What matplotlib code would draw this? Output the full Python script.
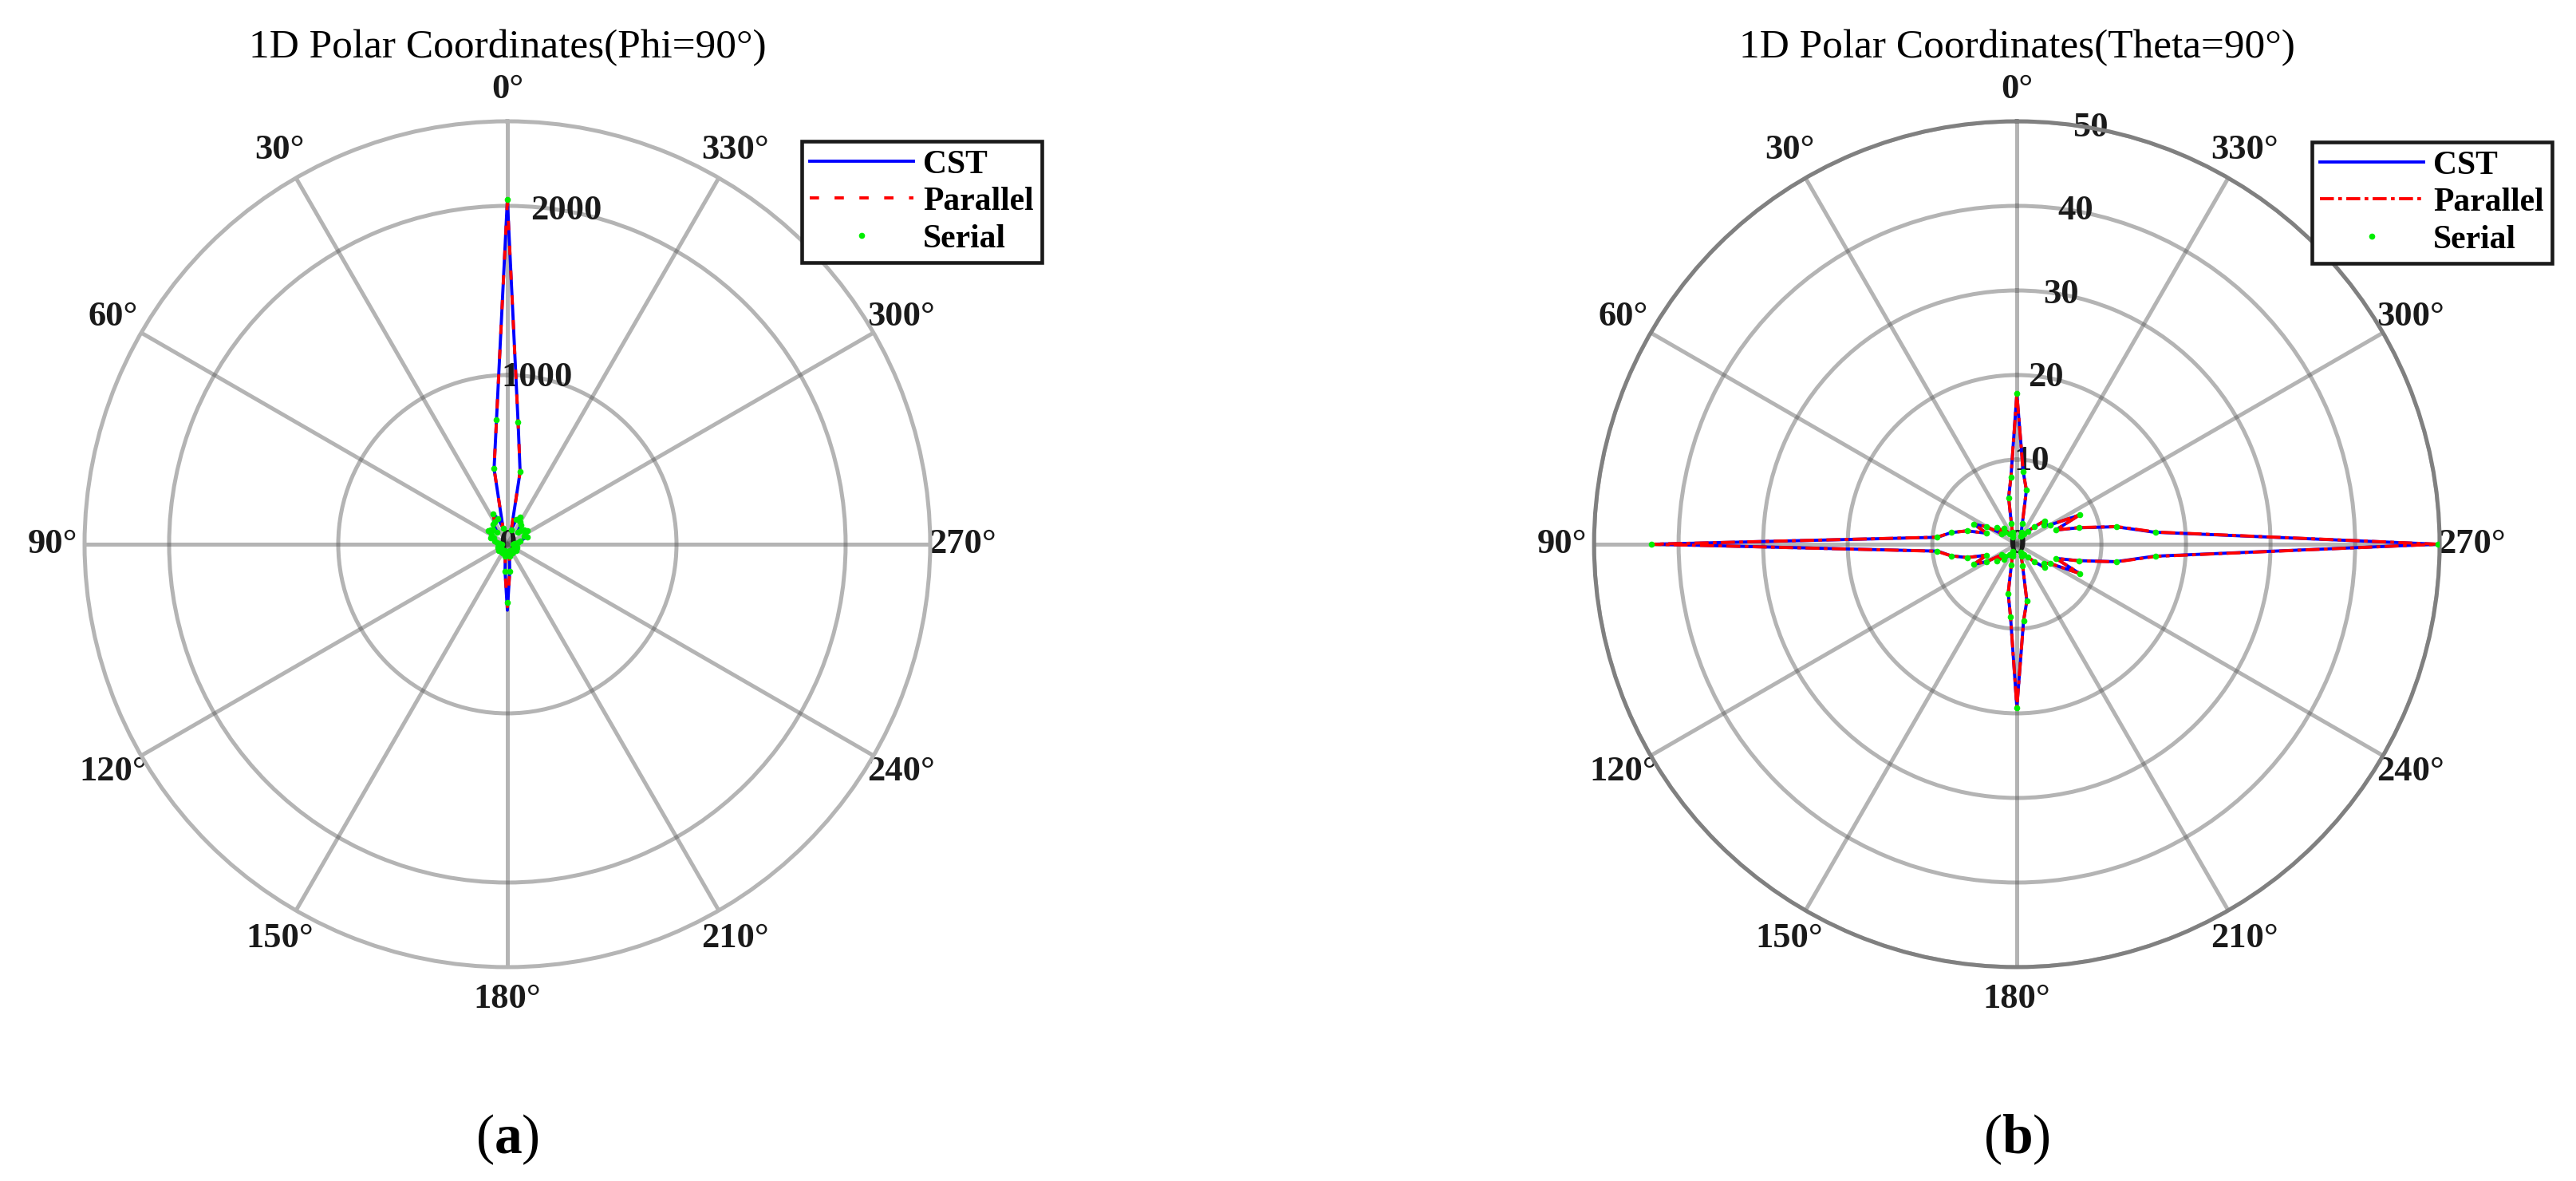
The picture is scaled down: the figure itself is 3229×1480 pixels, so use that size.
import numpy as np
import matplotlib
matplotlib.use("Agg")
import matplotlib.pyplot as plt
from matplotlib.lines import Line2D

# ---------------- data ----------------
angle_deg = list(range(0, 360, 5))          # sampling angles (deg)
theta_labels = ["0°", "30°", "60°", "90°", "120°", "150°",
                "180°", "210°", "240°", "270°", "300°", "330°"]
theta_ticks = [0, 30, 60, 90, 120, 150, 180, 210, 240, 270, 300, 330]

# (a) Phi = 90 deg cut, value vs theta
a_cst = [2036, 738, 453, 98, 160, 198, 150, 144, 95, 120, 130, 139, 110, 90, 105, 80,
         60, 45, 35, 40, 50, 55, 60, 55, 60, 65, 55, 50, 45, 55, 60, 50, 40, 55, 70, 159,
         390, 161, 70, 55, 40, 50, 60, 55, 45, 50, 55, 65, 60, 55, 60, 55, 50, 40, 35, 45,
         60, 80, 128, 110, 120, 142, 130, 110, 95, 137, 150, 177, 156, 90, 434, 726]
a_parallel = [2030, 738, 453, 98, 160, 198, 150, 144, 95, 120, 130, 139, 110, 90, 105, 80,
              60, 45, 35, 40, 50, 55, 60, 55, 60, 65, 55, 50, 45, 55, 60, 50, 40, 55, 70, 159,
              370, 161, 70, 55, 40, 50, 60, 55, 45, 50, 55, 65, 60, 55, 60, 55, 50, 40, 35, 45,
              60, 80, 128, 110, 120, 142, 130, 110, 95, 137, 150, 177, 156, 90, 434, 726]
a_serial = [2036, 738, 453, 98, 160, 198, 150, 144, 95, 120, 130, 139, 110, 90, 105, 80,
            60, 45, 35, 40, 50, 55, 60, 55, 60, 65, 55, 50, 45, 55, 60, 50, 40, 55, 70, 159,
            345, 161, 70, 55, 40, 50, 60, 55, 45, 50, 55, 65, 60, 55, 60, 55, 50, 40, 35, 45,
            60, 80, 128, 110, 120, 142, 130, 110, 95, 137, 150, 177, 156, 90, 434, 726]
a_rticks = [0, 1000, 2000]
a_rticklabels = ["0", "1000", "2000"]
a_rmax = 2500

# (b) Theta = 90 deg cut, value vs phi
b_cst = [17.8, 8.0, 5.6, 2.5, 1.5, 1.2, 1.0, 1.5, 2.4, 2.0, 3.1, 2.2, 4.1, 5.6, 3.8, 6.1,
         7.9, 9.4, 43.0, 9.4, 7.9, 6.1, 3.8, 5.6, 4.1, 2.2, 3.1, 2.0, 2.4, 1.5, 1.0, 1.2,
         1.5, 2.5, 5.9, 8.6, 19.3, 9.1, 6.8, 2.6, 1.5, 1.0, 1.2, 1.5, 2.0, 2.9, 4.3, 3.9,
         4.6, 8.1, 4.9, 7.5, 11.9, 16.3, 49.7, 16.3, 11.9, 7.5, 4.9, 8.1, 4.6, 3.9, 4.3, 2.9,
         2.0, 1.5, 1.2, 1.0, 1.5, 2.5, 6.5, 8.6]
b_parallel = [17.8, 8.0, 5.6, 2.5, 1.5, 1.2, 1.0, 1.5, 2.4, 2.0, 3.1, 2.2, 4.1, 5.6, 3.8, 6.1,
              7.9, 9.5, 43.2, 9.5, 7.9, 6.1, 3.8, 5.6, 4.1, 2.2, 3.1, 2.0, 2.4, 1.5, 1.0, 1.2,
              1.5, 2.5, 5.9, 8.6, 19.3, 9.1, 6.8, 2.6, 1.5, 1.0, 1.2, 1.5, 2.0, 2.9, 4.3, 3.9,
              4.6, 8.2, 4.9, 7.6, 12.0, 16.5, 49.8, 16.5, 12.0, 7.6, 4.9, 8.2, 4.6, 3.9, 4.3, 2.9,
              2.0, 1.5, 1.2, 1.0, 1.5, 2.5, 6.5, 8.6]
b_serial = [17.8, 8.0, 5.6, 2.5, 1.5, 1.2, 1.0, 1.5, 2.4, 2.0, 3.1, 2.2, 4.1, 5.6, 3.8, 6.1,
            7.9, 9.5, 43.2, 9.5, 7.9, 6.1, 3.8, 5.6, 4.1, 2.2, 3.1, 2.0, 2.4, 1.5, 1.0, 1.2,
            1.5, 2.5, 5.9, 8.6, 19.3, 9.1, 6.8, 2.6, 1.5, 1.0, 1.2, 1.5, 2.0, 2.9, 4.3, 3.9,
            4.6, 8.2, 4.9, 7.6, 12.0, 16.5, 49.8, 16.5, 12.0, 7.6, 4.9, 8.2, 4.6, 3.9, 4.3, 2.9,
            2.0, 1.5, 1.2, 1.0, 1.5, 2.5, 6.5, 8.6]
b_rticks = [0, 10, 20, 30, 40, 50]
b_rticklabels = ["0", "10", "20", "30", "40", "50"]
b_rmax = 50

series_names = ["CST", "Parallel", "Serial"]
titles = ["1D Polar Coordinates(Phi=90°)", "1D Polar Coordinates(Theta=90°)"]
panel_letters = ["a", "b"]

# ---------------- style ----------------
plt.rcParams["font.family"] = ["Liberation Serif", "DejaVu Serif"]
plt.rcParams["mathtext.fontset"] = "custom"
plt.rcParams["mathtext.rm"] = "Liberation Serif"
plt.rcParams["mathtext.bf"] = "Liberation Serif:bold"

fig = plt.figure(figsize=(32.3, 14.8), dpi=100)
fig.patch.set_facecolor("white")

rects = [[0.0328, 0.1811, 0.3282, 0.7162], [0.6186, 0.1811, 0.3282, 0.7162]]
grid_col = (0.35, 0.35, 0.35)

def closed(vals):
    th = np.deg2rad(np.array(angle_deg + [angle_deg[0]], dtype=float))
    return th, np.array(list(vals) + [vals[0]], dtype=float)

panels = [
    (a_cst, a_parallel, a_serial, a_rticks, a_rticklabels, a_rmax, (0, (3, 5)), (0.71, 0.71, 0.71)),
    (b_cst, b_parallel, b_serial, b_rticks, b_rticklabels, b_rmax, (0, (4.5, 1.4, 1.2, 1.4)), (0.5, 0.5, 0.5)),
]
legend_anchor = [(1005 / 3230, 1 - 177 / 1480), (2898 / 3230, 1 - 178 / 1480)]

for i, (cst, par, ser, rt, rtl, rmax, dash, spine_col) in enumerate(panels):
    ax = fig.add_axes(rects[i], projection="polar")
    ax.set_theta_zero_location("N")
    ax.set_theta_direction(1)
    ax.set_rlim(0, rmax)
    ax.set_thetagrids(theta_ticks, theta_labels)
    ax.set_rticks(rt)
    ax.set_yticklabels(rtl)
    ax.set_rlabel_position(350)
    ax.grid(True, color=grid_col, alpha=0.45, linewidth=3.6)
    ax.spines["polar"].set_color(spine_col)
    ax.spines["polar"].set_linewidth(3.6)
    ax.tick_params(axis="x", length=0, pad=22, labelsize=32)
    ax.tick_params(axis="y", length=0, labelsize=32)
    for lab in ax.get_xticklabels():
        lab.set_fontweight("bold")
        lab.set_color("#1a1a1a")
    for t in ax.yaxis.get_major_ticks():
        t.label1.set_fontweight("bold")
        t.label1.set_color("#1a1a1a")
        t.label1.set_horizontalalignment("center")
        t.label1.set_verticalalignment("center")

    th, v = closed(cst)
    ax.plot(th, v, color="blue", lw=2.8, zorder=3)
    th, v = closed(par)
    ax.plot(th, v, color="red", lw=2.8, linestyle=dash, zorder=4)
    th, v = closed(ser)
    ax.plot(th[:-1], v[:-1], linestyle="none", marker="o", ms=5.5,
            color="#00ee00", markeredgewidth=0, zorder=5)

    handles = [
        Line2D([], [], color="blue", lw=2.8),
        Line2D([], [], color="red", lw=2.8, linestyle=dash),
        Line2D([], [], linestyle="none", marker="o", ms=5.5, color="#00ee00", markeredgewidth=0),
    ]
    leg = fig.legend(handles, series_names, loc="upper left", bbox_to_anchor=legend_anchor[i],
                     bbox_transform=fig.transFigure, frameon=True, fancybox=False,
                     framealpha=1, edgecolor="#1a1a1a", handlelength=3.1,
                     handletextpad=0.3, borderpad=0.25, labelspacing=0.2, borderaxespad=0,
                     prop={"family": "Liberation Serif", "weight": "bold", "size": 30})
    leg.get_frame().set_linewidth(3.3)

    cx = rects[i][0] + rects[i][2] / 2
    fig.text(cx, 1 - 72 / 1480, titles[i], ha="center", va="baseline", fontsize=37,
             color="black")
    fig.text(cx, 1 - 1428 / 1480, r"($\mathbf{%s}$)" % panel_letters[i], ha="center",
             va="center", fontsize=50, color="black")

fig.savefig("out.png", dpi=100, facecolor="white")
